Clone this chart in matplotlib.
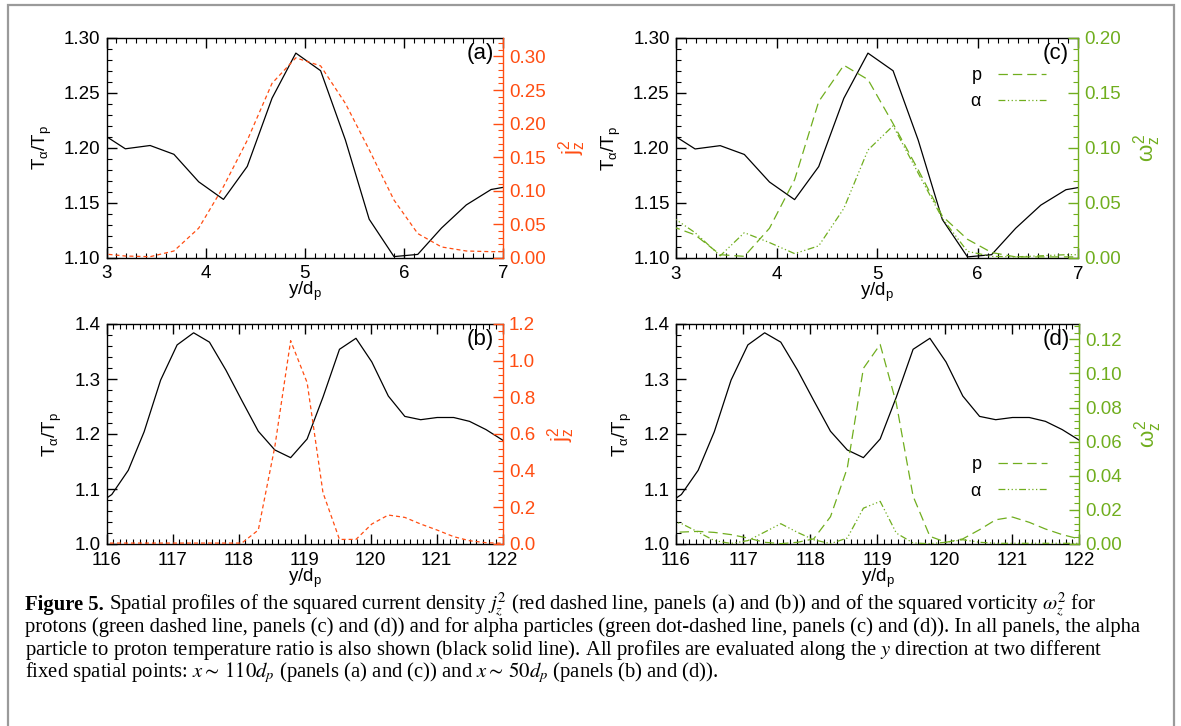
import numpy as np
import matplotlib
matplotlib.use('Agg')
import matplotlib.pyplot as plt
from matplotlib.ticker import MultipleLocator, FormatStrFormatter
from matplotlib.patches import Rectangle
from matplotlib.transforms import ScaledTranslation

plt.rcParams['font.family'] = ['Liberation Sans', 'DejaVu Sans']
plt.rcParams['mathtext.fontset'] = 'custom'
plt.rcParams['mathtext.rm'] = 'Liberation Sans'
plt.rcParams['mathtext.it'] = 'Liberation Sans'
plt.rcParams['mathtext.bf'] = 'Liberation Sans:bold'

RED = '#ff4d12'
GREEN = '#70ae1e'

# x ~ 110 d_p (panels a, c)
y_top = [2.95, 3.19, 3.44, 3.68, 3.93, 4.18, 4.42, 4.67, 4.91, 5.16, 5.41, 5.65,
         5.90, 6.14, 6.38, 6.63, 6.88, 7.13]
ratio_top = [1.213, 1.199, 1.202, 1.194, 1.169, 1.153, 1.183, 1.245, 1.286, 1.270,
             1.207, 1.135, 1.101, 1.103, 1.127, 1.148, 1.162, 1.166]
jz2_top = [0.006, 0.0025, 0.0015, 0.010, 0.044, 0.106, 0.175, 0.260, 0.298, 0.286,
           0.230, 0.161, 0.086, 0.036, 0.016, 0.010, 0.009, 0.009]
wp_top = [0.029, 0.021, 0.003, 0.0015, 0.027, 0.071, 0.142, 0.175, 0.162, 0.122,
          0.080, 0.038, 0.017, 0.005, 0.001, 0.001, 0.001, 0.001]
wa_top = [0.038, 0.023, 0.002, 0.023, 0.014, 0.004, 0.011, 0.045, 0.098, 0.120,
          0.077, 0.036, 0.006, 0.0015, 0.001, 0.002, 0.003, 0.003]

# x ~ 50 d_p (panels b, d)
y_bot = [115.84, 116.08, 116.33, 116.57, 116.82, 117.07, 117.32, 117.56, 117.81,
         118.05, 118.30, 118.55, 118.79, 119.04, 119.28, 119.53, 119.78, 120.02,
         120.27, 120.52, 120.76, 121.01, 121.26, 121.50, 121.75, 122.00, 122.24]
ratio_bot = [1.07, 1.090, 1.134, 1.204, 1.298, 1.362, 1.384, 1.367, 1.316, 1.261,
             1.205, 1.171, 1.157, 1.191, 1.267, 1.354, 1.374, 1.331, 1.269, 1.232,
             1.226, 1.230, 1.230, 1.223, 1.208, 1.189, 1.170]
jz2_bot = [0.005, 0.005, 0.005, 0.005, 0.005, 0.005, 0.005, 0.005, 0.005, 0.005,
           0.076, 0.53, 1.109, 0.880, 0.280, 0.025, 0.025, 0.109, 0.158, 0.145,
           0.109, 0.076, 0.040, 0.018, 0.007, 0.004, 0.003]
wp_bot = [0.007, 0.007, 0.0074, 0.0068, 0.0055, 0.0035, 0.001, 0.0002, 0.001, 0.003,
          0.016, 0.0445, 0.103, 0.117, 0.0825, 0.028, 0.0045, 0.001, 0.003, 0.0084,
          0.0142, 0.0158, 0.0127, 0.0088, 0.0055, 0.003, 0.002]
wa_bot = [0.014, 0.012, 0.007, 0.002, 0.0003, 0.002, 0.007, 0.0119, 0.0068, 0.0025,
          0.0002, 0.0035, 0.021, 0.025, 0.0064, 0.0006, 0.0002, 0.001, 0.0025, 0.001,
          0.0004, 0.0004, 0.0004, 0.0004, 0.0004, 0.0004, 0.0004]

W, H = 1181, 726
fig = plt.figure(figsize=(W / 100, H / 100), dpi=100)
FS = 13.5


def rect(l, t, r, b):
    return [l / W, 1 - b / H, (r - l) / W, (b - t) / H]


def lift_bottom_label(axis, pts):
    # IDL-style: lowest y label sits a bit above the bottom tick
    t = axis.get_major_ticks()[0]
    for lab in (t.label1, t.label2):
        lab.set_transform(lab.get_transform() + ScaledTranslation(0, pts / 72, fig.dpi_scale_trans))


def host(pos, xlim, ylim, ymaj, ymin, fmt, tag):
    ax = fig.add_axes(pos)
    ax.set_xlim(xlim)
    ax.set_ylim(ylim)
    ax.xaxis.set_major_locator(MultipleLocator(1))
    ax.xaxis.set_minor_locator(MultipleLocator(0.1))
    ax.yaxis.set_major_locator(MultipleLocator(ymaj))
    ax.yaxis.set_minor_locator(MultipleLocator(ymin))
    ax.yaxis.set_major_formatter(FormatStrFormatter(fmt))
    ax.tick_params(which='both', direction='in', top=True, right=False, labelsize=FS)
    ax.tick_params(which='major', length=7, width=1)
    ax.tick_params(which='minor', length=3.5, width=0.8)
    ax.tick_params(axis='y', pad=4.5)
    ax.tick_params(axis='x', pad=5.5)
    ax.spines['right'].set_visible(False)
    for s in ['left', 'top', 'bottom']:
        ax.spines[s].set_linewidth(1)
    ax.set_xlabel('y/d$_p$', fontsize=FS, labelpad=-1.5)
    ax.set_ylabel(r'T$_\alpha$/T$_p$', fontsize=FS, labelpad=7)
    ax.text(0.977, 0.93, tag, transform=ax.transAxes, ha='right', va='center', fontsize=16)
    lift_bottom_label(ax.yaxis, 4)
    return ax


def twin(ax, ylim, ymaj, ymin, fmt, col, label):
    tw = ax.twinx()
    tw.set_ylim(ylim)
    tw.yaxis.set_major_locator(MultipleLocator(ymaj))
    tw.yaxis.set_minor_locator(MultipleLocator(ymin))
    tw.yaxis.set_major_formatter(FormatStrFormatter(fmt))
    tw.tick_params(axis='y', which='both', direction='in', colors=col, labelsize=FS, pad=4.5)
    tw.tick_params(axis='y', which='major', length=7, width=1)
    tw.tick_params(axis='y', which='minor', length=3.5, width=0.8)
    for s in ['left', 'top', 'bottom']:
        tw.spines[s].set_visible(False)
    tw.spines['right'].set_color(col)
    tw.spines['right'].set_linewidth(1)
    tw.set_ylabel(label, color=col, fontsize=16, labelpad=7)
    lift_bottom_label(tw.yaxis, 6.5)
    return tw


red_dash = (3.2, 2.4)
p_dash = (7.5, 4.0)
a_dash = (5.5, 2.0, 1.0, 2.0, 1.0, 2.0, 1.0, 2.0)
leg = dict(markerfirst=False, frameon=False, handlelength=2.7, handletextpad=0.9,
           labelspacing=0.5, fontsize=13)

# panel (a)
ax = host(rect(106.5, 37.7, 503, 257.7), (3, 7), (1.10, 1.30), 0.05, 0.01, '%.2f', '(a)')
ax.plot(y_top, ratio_top, color='black', lw=0.9)
tw = twin(ax, (0, 0.328), 0.05, 0.01, '%.2f', RED, r'j$_z^2$')
tw.plot(y_top, jz2_top, color=RED, lw=0.9, dashes=red_dash)

# panel (b)
ax = host(rect(106.5, 324, 502.5, 544), (116, 122), (1.0, 1.4), 0.1, 0.02, '%.1f', '(b)')
ax.plot(y_bot, ratio_bot, color='black', lw=0.9)
tw = twin(ax, (0, 1.2), 0.2, 0.04, '%.1f', RED, r'j$_z^2$')
tw.plot(y_bot, jz2_bot, color=RED, lw=0.9, dashes=red_dash)

# panel (c)
ax = host(rect(676, 37.7, 1078, 258), (3, 7), (1.10, 1.30), 0.05, 0.01, '%.2f', '(c)')
ax.plot(y_top, ratio_top, color='black', lw=0.9)
tw = twin(ax, (0, 0.20), 0.05, 0.01, '%.2f', GREEN, r'$\omega_z^2$')
lp, = tw.plot(y_top, wp_top, color=GREEN, lw=0.9, dashes=p_dash, label='p')
la, = tw.plot(y_top, wa_top, color=GREEN, lw=0.9, dashes=a_dash, label=r'$\alpha$')
tw.legend(handles=[lp, la], loc='center left', bbox_to_anchor=(0.69, 0.77), **leg)

# panel (d)
ax = host(rect(676, 324, 1079, 544), (116, 122), (1.0, 1.4), 0.1, 0.02, '%.1f', '(d)')
ax.plot(y_bot, ratio_bot, color='black', lw=0.9)
tw = twin(ax, (0, 0.129), 0.02, 0.004, '%.2f', GREEN, r'$\omega_z^2$')
lp, = tw.plot(y_bot, wp_bot, color=GREEN, lw=0.9, dashes=p_dash, label='p')
la, = tw.plot(y_bot, wa_bot, color=GREEN, lw=0.9, dashes=a_dash, label=r'$\alpha$')
tw.legend(handles=[lp, la], loc='center left', bbox_to_anchor=(0.69, 0.30), **leg)

# frame around figure + caption
fig.add_artist(Rectangle((7.6 / W, -0.05), (1173.6 - 7.6) / W, 1.05 - 5 / H,
                         transform=fig.transFigure, fill=False, ec='#9a9a9a', lw=1.6))

cap = dict(family='Liberation Serif', size=14.9, math_fontfamily='stix', va='baseline')
lines = [
    r' Spatial profiles of the squared current density $j_z^2$ (red dashed line, panels (a) and (b)) and of the squared vorticity $\omega_z^2$ for',
    'protons (green dashed line, panels (c) and (d)) and for alpha particles (green dot-dashed line, panels (c) and (d)). In all panels, the alpha',
    r'particle to proton temperature ratio is also shown (black solid line). All profiles are evaluated along the $y$ direction at two different',
    r'fixed spatial points: $x\sim\,110d_p$ (panels (a) and (c)) and $x\sim\,50d_p$ (panels (b) and (d)).',
]
x0 = 25 / W
base = [610, 632, 655, 677]
t0 = fig.text(x0, 1 - base[0] / H, 'Figure 5.', weight='bold', **cap)
r = fig.canvas.get_renderer()
bb = t0.get_window_extent(r)
fig.text(bb.x1 / W, 1 - base[0] / H, lines[0], **cap)
for ln, b in zip(lines[1:], base[1:]):
    fig.text(x0, 1 - b / H, ln, **cap)

fig.savefig('out.png', dpi=100)
